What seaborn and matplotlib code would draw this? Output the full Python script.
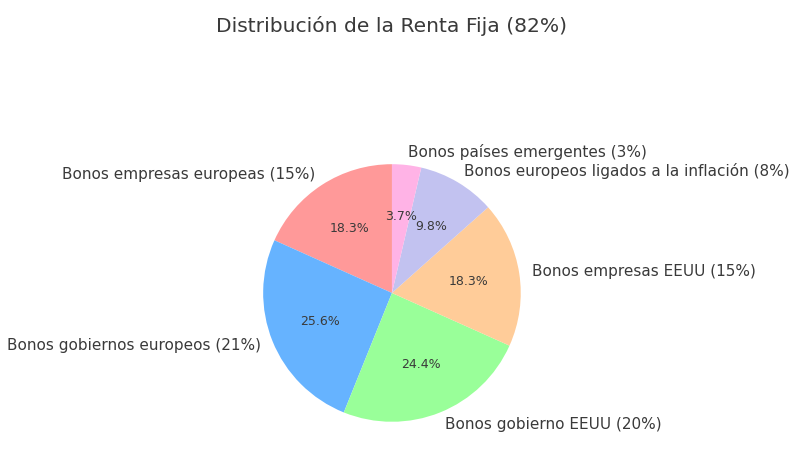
import matplotlib
matplotlib.use("Agg")
import matplotlib.pyplot as plt
import seaborn as sns

# data
labels = [
    "Bonos empresas europeas (15%)",
    "Bonos gobiernos europeos (21%)",
    "Bonos gobierno EEUU (20%)",
    "Bonos empresas EEUU (15%)",
    "Bonos europeos ligados a la inflación (8%)",
    "Bonos países emergentes (3%)",
]
sizes = [15, 21, 20, 15, 8, 3]
colors = ["#ff9999", "#66b3ff", "#99ff99", "#ffcc99", "#c2c2f0", "#ffb3e6"]

sns.set_theme(style="white")
plt.rcParams['font.family'] = ['DejaVu Sans']
TEXT_COLOR = '#3a3a3a'

fig = plt.figure(figsize=(8.11, 4.65), dpi=100)
ax = fig.add_axes([0.2848, 0.0237, 0.397, 0.6925])

palette = sns.color_palette(colors)
wedges, texts, autotexts = ax.pie(
    sizes, labels=labels, colors=palette, autopct='%1.1f%%', startangle=90,
    textprops={'fontsize': 11, 'color': TEXT_COLOR},
    wedgeprops={'linewidth': 0, 'edgecolor': 'none'},
)
for t in autotexts:
    t.set_fontsize(9)
ax.set_aspect('equal')
ax.set_title('Distribución de la Renta Fija (82%)', fontsize=14.6,
             color=TEXT_COLOR, pad=72)

plt.savefig("out.png", dpi=100)
